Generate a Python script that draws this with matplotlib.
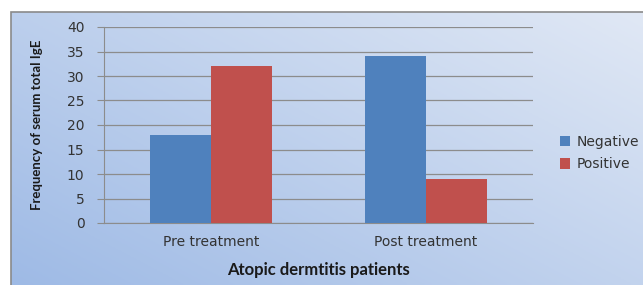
import numpy as np
from matplotlib import pyplot as plt
from matplotlib.patches import Rectangle

groups = ["Pre treatment", "Post treatment"]
negative = [18, 34]
positive = [32, 9]
yticks = [0, 5, 10, 15, 20, 25, 30, 35, 40]

W, H = 643, 285
fig = plt.figure(figsize=(W / 100, H / 100), dpi=100)
fig.patch.set_facecolor("white")

# gradient background of the chart frame
bg = fig.add_axes([11 / W, 0, 1 - 11 / W, 1 - 12 / H], zorder=0)
gx, gy = np.meshgrid(np.linspace(0, 1, 200), np.linspace(0, 1, 100))
t = np.clip(0.55 * gx + 0.45 * gy, 0, 1)
c0 = np.array([0.62, 0.73, 0.90])
c1 = np.array([0.88, 0.91, 0.96])
img = c0[None, None, :] * (1 - t[..., None]) + c1[None, None, :] * t[..., None]
bg.imshow(img, origin="lower", aspect="auto", extent=[0, 1, 0, 1])
bg.set_xlim(0, 1)
bg.set_ylim(0, 1)
bg.axis("off")
fig.add_artist(Rectangle((11 / W, -0.1), 1.2, 1 - 12 / H + 0.1,
                         transform=fig.transFigure, fill=False,
                         edgecolor="#8a8a8a", linewidth=1.2, zorder=1))

ax = fig.add_axes([104 / W, 1 - 223 / H, (533 - 104) / W, (223 - 27) / H], zorder=2)
ax.patch.set_alpha(0)
x = np.arange(len(groups))
w = 0.285
ax.bar(x - w / 2, negative, w, color="#4F81BD", label="Negative", zorder=3)
ax.bar(x + w / 2, positive, w, color="#C0504D", label="Positive", zorder=3)
ax.set_xlim(-0.5, 1.5)
ax.set_ylim(0, 40)
ax.set_yticks(yticks)
ax.yaxis.grid(True, color="#8c8c8c", linewidth=0.9)
ax.set_axisbelow(True)
for s in ["top", "right"]:
    ax.spines[s].set_visible(False)
ax.spines["left"].set_color("#8c8c8c")
ax.spines["bottom"].set_color("#8c8c8c")
ax.tick_params(axis="y", length=5, color="#8c8c8c", labelsize=10, pad=9,
               labelcolor="#333333")
ax.tick_params(axis="x", length=0, labelsize=10, pad=9, labelcolor="#333333")
ax.set_xticks(x)
ax.set_xticklabels(groups)
ax.set_xlabel("Atopic dermtitis patients", family="Lato", fontweight="bold",
              fontsize=12, labelpad=9, color="#1a1a1a")
ax.set_ylabel("Frequency of serum total IgE", family="Lato", fontweight="bold",
              fontsize=9.5, labelpad=17, color="#1a1a1a")

leg = ax.legend(loc="center left", bbox_to_anchor=(560 / W, 1 - 153 / H),
                bbox_transform=fig.transFigure, frameon=False,
                borderaxespad=0, borderpad=0,
                prop={"size": 10},
                handlelength=0.75, handleheight=0.75, handletextpad=0.45,
                labelspacing=0.62)
for txt in leg.get_texts():
    txt.set_color("#333333")

fig.savefig("out.png", dpi=100)
